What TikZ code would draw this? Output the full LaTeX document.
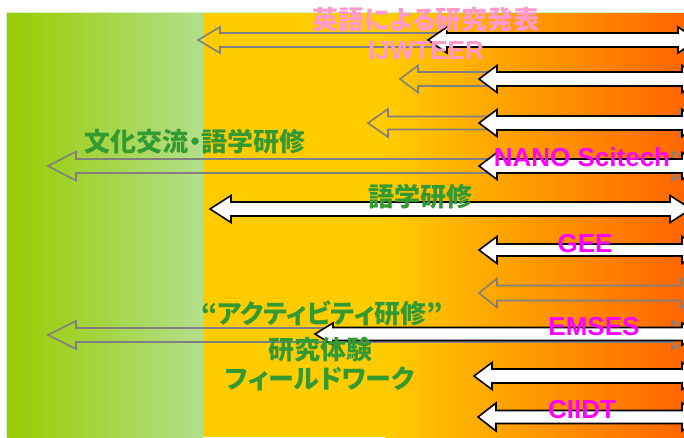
\documentclass[tikz,border=0pt]{standalone}
\usepackage{fontspec}
\newfontfamily\jp{Noto Sans CJK JP}[RawFeature=+palt]
\newfontfamily\lat{Liberation Sans}
\definecolor{gleft}{RGB}{153,204,0}
\definecolor{gright}{RGB}{178,223,140}
\definecolor{gedge}{RGB}{210,245,200}
\definecolor{yel}{RGB}{255,204,0}
\definecolor{org}{RGB}{255,102,0}
\definecolor{pinktxt}{RGB}{255,153,204}
\definecolor{greentxt}{RGB}{51,153,51}
\definecolor{magtxt}{RGB}{255,0,255}
\definecolor{grayarr}{RGB}{128,128,128}
% #1 style, #2 left tip x, #3 right tip x, #4 y, #5 head length, #6 head half height, #7 shaft half height
\newcommand\dblarr[7]{%
  \draw[#1] (#2,#4) -- ({#2+#5},{#4-#6}) -- ({#2+#5},{#4-#7}) -- ({#3-#5},{#4-#7})
    -- ({#3-#5},{#4-#6}) -- (#3,#4) -- ({#3-#5},{#4+#6}) -- ({#3-#5},{#4+#7})
    -- ({#2+#5},{#4+#7}) -- ({#2+#5},{#4+#6}) -- cycle;}
\tikzset{
  grayarrow/.style={draw=grayarr, line width=1.6pt, line join=miter},
  whitearrow/.style={draw=black, fill=white, line width=1.6pt, line join=miter},
  jptext/.style={font=\jp\bfseries\fontsize{26}{28}\selectfont, inner sep=0pt},
  lattext/.style={font=\lat\bfseries\fontsize{26}{28}\selectfont, inner sep=0pt},
}
\begin{document}
\begin{tikzpicture}[x=1pt,y=-1pt]
\useasboundingbox (0,0) rectangle (684,437);
\clip (0,0) rectangle (684,437);
% backgrounds
\fill[white] (0,0) rectangle (684,437);
\fill[gedge] (5.5,12) rectangle (684,437);
\shade[left color=gleft, right color=gright] (7,13.5) rectangle (203,437);
\fill[yel] (203,13) rectangle (386,437);
\shade[left color=yel, right color=org] (385,13) rectangle (684,437);
% gray hollow arrows
\dblarr{grayarrow}{198}{700}{40}{22}{13}{7}
\dblarr{grayarrow}{400}{700}{79}{18}{13.5}{7}
\dblarr{grayarrow}{368}{700}{123}{20}{14}{6.5}
\dblarr{grayarrow}{48}{700}{166}{28}{14.5}{7}
\dblarr{grayarrow}{479}{699}{293}{18}{14.5}{7.5}
\dblarr{grayarrow}{48}{700}{335}{28}{14}{7}
% white arrows
\dblarr{whitearrow}{428}{697}{40}{19}{13}{7}
\dblarr{whitearrow}{479}{700}{79}{18}{13.5}{7}
\dblarr{whitearrow}{479}{700}{123}{18}{13.5}{7}
\dblarr{whitearrow}{479}{700}{166}{18}{13.5}{7}
\dblarr{whitearrow}{210}{691}{209}{21}{13.5}{7}
\dblarr{whitearrow}{479}{700}{250}{18}{13.5}{6}
\dblarr{whitearrow}{315}{700}{334}{18}{11}{6.5}
\dblarr{whitearrow}{474}{700}{376}{18}{13.5}{7}
\dblarr{whitearrow}{478}{700}{417}{18}{14}{6.5}
% texts
\node[jptext, text=pinktxt] (t1) at (426,20) {英語による研究発表};
\node[lattext, text=pinktxt] (t2) at (426,51) {IJWTEER};
\node[jptext, text=greentxt] (t3) at (195,142) {文化交流・語学研修};
\node[lattext, text=magtxt] (t4) at (582,157) {NANO Scitech};
\node[jptext, text=greentxt] (t5) at (420,197) {語学研修};
\node[lattext, text=magtxt] (t6) at (585,244) {GEE};
\node[jptext, text=greentxt] (t7) at (322,313) {“アクティビティ研修”};
\node[lattext, text=magtxt] (t8) at (594,327) {EMSES};
\node[jptext, text=greentxt] (t9) at (320,350) {研究体験};
\node[jptext, text=greentxt] (t10) at (320,379) {フィールドワーク};
\node[lattext, text=magtxt] (t11) at (582,410) {CIIDT};
\end{tikzpicture}
\end{document}
